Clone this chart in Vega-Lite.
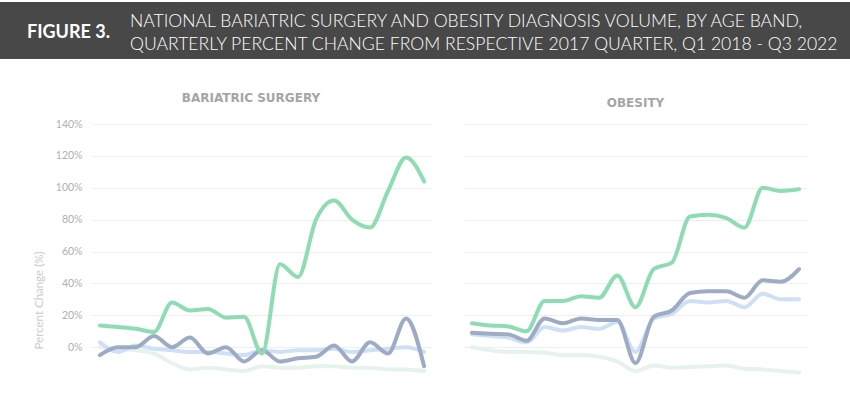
{
  "$schema": "https://vega.github.io/schema/vega-lite/v6.json",
  "padding": {"left": 0, "top": 2, "right": 0, "bottom": 0},
  "background": "white",
  "config": {"font": "Lato", "view": {"stroke": null}},
  "datasets": {
    "series": [
      {"panel": "Bariatric", "band": "Faint", "q": "Q1 2018", "v": 0},
      {"panel": "Bariatric", "band": "Faint", "q": "Q2 2018", "v": -1},
      {"panel": "Bariatric", "band": "Faint", "q": "Q3 2018", "v": -2},
      {"panel": "Bariatric", "band": "Faint", "q": "Q4 2018", "v": -4},
      {"panel": "Bariatric", "band": "Faint", "q": "Q1 2019", "v": -10},
      {"panel": "Bariatric", "band": "Faint", "q": "Q2 2019", "v": -14},
      {"panel": "Bariatric", "band": "Faint", "q": "Q3 2019", "v": -13},
      {"panel": "Bariatric", "band": "Faint", "q": "Q4 2019", "v": -14},
      {"panel": "Bariatric", "band": "Faint", "q": "Q1 2020", "v": -15},
      {"panel": "Bariatric", "band": "Faint", "q": "Q2 2020", "v": -12},
      {"panel": "Bariatric", "band": "Faint", "q": "Q3 2020", "v": -13},
      {"panel": "Bariatric", "band": "Faint", "q": "Q4 2020", "v": -13},
      {"panel": "Bariatric", "band": "Faint", "q": "Q1 2021", "v": -12},
      {"panel": "Bariatric", "band": "Faint", "q": "Q2 2021", "v": -12},
      {"panel": "Bariatric", "band": "Faint", "q": "Q3 2021", "v": -13},
      {"panel": "Bariatric", "band": "Faint", "q": "Q4 2021", "v": -13},
      {"panel": "Bariatric", "band": "Faint", "q": "Q1 2022", "v": -14},
      {"panel": "Bariatric", "band": "Faint", "q": "Q2 2022", "v": -14},
      {"panel": "Bariatric", "band": "Faint", "q": "Q3 2022", "v": -15},

      {"panel": "Bariatric", "band": "Light", "q": "Q1 2018", "v": 3},
      {"panel": "Bariatric", "band": "Light", "q": "Q2 2018", "v": -3},
      {"panel": "Bariatric", "band": "Light", "q": "Q3 2018", "v": 1},
      {"panel": "Bariatric", "band": "Light", "q": "Q4 2018", "v": -1},
      {"panel": "Bariatric", "band": "Light", "q": "Q1 2019", "v": -2},
      {"panel": "Bariatric", "band": "Light", "q": "Q2 2019", "v": -3},
      {"panel": "Bariatric", "band": "Light", "q": "Q3 2019", "v": -3},
      {"panel": "Bariatric", "band": "Light", "q": "Q4 2019", "v": -4},
      {"panel": "Bariatric", "band": "Light", "q": "Q1 2020", "v": -5},
      {"panel": "Bariatric", "band": "Light", "q": "Q2 2020", "v": -2},
      {"panel": "Bariatric", "band": "Light", "q": "Q3 2020", "v": -3},
      {"panel": "Bariatric", "band": "Light", "q": "Q4 2020", "v": -2},
      {"panel": "Bariatric", "band": "Light", "q": "Q1 2021", "v": -2},
      {"panel": "Bariatric", "band": "Light", "q": "Q2 2021", "v": -1},
      {"panel": "Bariatric", "band": "Light", "q": "Q3 2021", "v": -3},
      {"panel": "Bariatric", "band": "Light", "q": "Q4 2021", "v": -2},
      {"panel": "Bariatric", "band": "Light", "q": "Q1 2022", "v": -1},
      {"panel": "Bariatric", "band": "Light", "q": "Q2 2022", "v": 0},
      {"panel": "Bariatric", "band": "Light", "q": "Q3 2022", "v": -3},

      {"panel": "Bariatric", "band": "Dark", "q": "Q1 2018", "v": -5},
      {"panel": "Bariatric", "band": "Dark", "q": "Q2 2018", "v": 0},
      {"panel": "Bariatric", "band": "Dark", "q": "Q3 2018", "v": 0},
      {"panel": "Bariatric", "band": "Dark", "q": "Q4 2018", "v": 7},
      {"panel": "Bariatric", "band": "Dark", "q": "Q1 2019", "v": 0},
      {"panel": "Bariatric", "band": "Dark", "q": "Q2 2019", "v": 6},
      {"panel": "Bariatric", "band": "Dark", "q": "Q3 2019", "v": -4},
      {"panel": "Bariatric", "band": "Dark", "q": "Q4 2019", "v": 0},
      {"panel": "Bariatric", "band": "Dark", "q": "Q1 2020", "v": -9},
      {"panel": "Bariatric", "band": "Dark", "q": "Q2 2020", "v": -2},
      {"panel": "Bariatric", "band": "Dark", "q": "Q3 2020", "v": -9},
      {"panel": "Bariatric", "band": "Dark", "q": "Q4 2020", "v": -7},
      {"panel": "Bariatric", "band": "Dark", "q": "Q1 2021", "v": -6},
      {"panel": "Bariatric", "band": "Dark", "q": "Q2 2021", "v": 1},
      {"panel": "Bariatric", "band": "Dark", "q": "Q3 2021", "v": -9},
      {"panel": "Bariatric", "band": "Dark", "q": "Q4 2021", "v": 3},
      {"panel": "Bariatric", "band": "Dark", "q": "Q1 2022", "v": -4},
      {"panel": "Bariatric", "band": "Dark", "q": "Q2 2022", "v": 18},
      {"panel": "Bariatric", "band": "Dark", "q": "Q3 2022", "v": -12},

      {"panel": "Bariatric", "band": "Green", "q": "Q1 2018", "v": 13.6},
      {"panel": "Bariatric", "band": "Green", "q": "Q2 2018", "v": 12.6},
      {"panel": "Bariatric", "band": "Green", "q": "Q3 2018", "v": 11.5},
      {"panel": "Bariatric", "band": "Green", "q": "Q4 2018", "v": 9.5},
      {"panel": "Bariatric", "band": "Green", "q": "Q1 2019", "v": 28},
      {"panel": "Bariatric", "band": "Green", "q": "Q2 2019", "v": 23},
      {"panel": "Bariatric", "band": "Green", "q": "Q3 2019", "v": 24},
      {"panel": "Bariatric", "band": "Green", "q": "Q4 2019", "v": 18.5},
      {"panel": "Bariatric", "band": "Green", "q": "Q1 2020", "v": 19},
      {"panel": "Bariatric", "band": "Green", "q": "Q2 2020", "v": -4},
      {"panel": "Bariatric", "band": "Green", "q": "Q3 2020", "v": 52},
      {"panel": "Bariatric", "band": "Green", "q": "Q4 2020", "v": 44},
      {"panel": "Bariatric", "band": "Green", "q": "Q1 2021", "v": 80},
      {"panel": "Bariatric", "band": "Green", "q": "Q2 2021", "v": 92},
      {"panel": "Bariatric", "band": "Green", "q": "Q3 2021", "v": 80},
      {"panel": "Bariatric", "band": "Green", "q": "Q4 2021", "v": 75},
      {"panel": "Bariatric", "band": "Green", "q": "Q1 2022", "v": 98},
      {"panel": "Bariatric", "band": "Green", "q": "Q2 2022", "v": 119},
      {"panel": "Bariatric", "band": "Green", "q": "Q3 2022", "v": 104},

      {"panel": "Obesity", "band": "Faint", "q": "Q1 2018", "v": 0},
      {"panel": "Obesity", "band": "Faint", "q": "Q2 2018", "v": -2},
      {"panel": "Obesity", "band": "Faint", "q": "Q3 2018", "v": -3},
      {"panel": "Obesity", "band": "Faint", "q": "Q4 2018", "v": -3},
      {"panel": "Obesity", "band": "Faint", "q": "Q1 2019", "v": -3.5},
      {"panel": "Obesity", "band": "Faint", "q": "Q2 2019", "v": -5},
      {"panel": "Obesity", "band": "Faint", "q": "Q3 2019", "v": -5},
      {"panel": "Obesity", "band": "Faint", "q": "Q4 2019", "v": -6},
      {"panel": "Obesity", "band": "Faint", "q": "Q1 2020", "v": -9},
      {"panel": "Obesity", "band": "Faint", "q": "Q2 2020", "v": -15},
      {"panel": "Obesity", "band": "Faint", "q": "Q3 2020", "v": -11.5},
      {"panel": "Obesity", "band": "Faint", "q": "Q4 2020", "v": -13},
      {"panel": "Obesity", "band": "Faint", "q": "Q1 2021", "v": -12.5},
      {"panel": "Obesity", "band": "Faint", "q": "Q2 2021", "v": -12},
      {"panel": "Obesity", "band": "Faint", "q": "Q3 2021", "v": -11.5},
      {"panel": "Obesity", "band": "Faint", "q": "Q4 2021", "v": -13.5},
      {"panel": "Obesity", "band": "Faint", "q": "Q1 2022", "v": -14},
      {"panel": "Obesity", "band": "Faint", "q": "Q2 2022", "v": -15},
      {"panel": "Obesity", "band": "Faint", "q": "Q3 2022", "v": -16},

      {"panel": "Obesity", "band": "Light", "q": "Q1 2018", "v": 8},
      {"panel": "Obesity", "band": "Light", "q": "Q2 2018", "v": 7},
      {"panel": "Obesity", "band": "Light", "q": "Q3 2018", "v": 6},
      {"panel": "Obesity", "band": "Light", "q": "Q4 2018", "v": 3},
      {"panel": "Obesity", "band": "Light", "q": "Q1 2019", "v": 12.6},
      {"panel": "Obesity", "band": "Light", "q": "Q2 2019", "v": 10.5},
      {"panel": "Obesity", "band": "Light", "q": "Q3 2019", "v": 12.6},
      {"panel": "Obesity", "band": "Light", "q": "Q4 2019", "v": 11.5},
      {"panel": "Obesity", "band": "Light", "q": "Q1 2020", "v": 15.7},
      {"panel": "Obesity", "band": "Light", "q": "Q2 2020", "v": -3},
      {"panel": "Obesity", "band": "Light", "q": "Q3 2020", "v": 18},
      {"panel": "Obesity", "band": "Light", "q": "Q4 2020", "v": 21},
      {"panel": "Obesity", "band": "Light", "q": "Q1 2021", "v": 29},
      {"panel": "Obesity", "band": "Light", "q": "Q2 2021", "v": 28},
      {"panel": "Obesity", "band": "Light", "q": "Q3 2021", "v": 29},
      {"panel": "Obesity", "band": "Light", "q": "Q4 2021", "v": 25},
      {"panel": "Obesity", "band": "Light", "q": "Q1 2022", "v": 33.5},
      {"panel": "Obesity", "band": "Light", "q": "Q2 2022", "v": 30},
      {"panel": "Obesity", "band": "Light", "q": "Q3 2022", "v": 30},

      {"panel": "Obesity", "band": "Dark", "q": "Q1 2018", "v": 9},
      {"panel": "Obesity", "band": "Dark", "q": "Q2 2018", "v": 8.4},
      {"panel": "Obesity", "band": "Dark", "q": "Q3 2018", "v": 8},
      {"panel": "Obesity", "band": "Dark", "q": "Q4 2018", "v": 4},
      {"panel": "Obesity", "band": "Dark", "q": "Q1 2019", "v": 18},
      {"panel": "Obesity", "band": "Dark", "q": "Q2 2019", "v": 15},
      {"panel": "Obesity", "band": "Dark", "q": "Q3 2019", "v": 18},
      {"panel": "Obesity", "band": "Dark", "q": "Q4 2019", "v": 17},
      {"panel": "Obesity", "band": "Dark", "q": "Q1 2020", "v": 17},
      {"panel": "Obesity", "band": "Dark", "q": "Q2 2020", "v": -10},
      {"panel": "Obesity", "band": "Dark", "q": "Q3 2020", "v": 19},
      {"panel": "Obesity", "band": "Dark", "q": "Q4 2020", "v": 23},
      {"panel": "Obesity", "band": "Dark", "q": "Q1 2021", "v": 34},
      {"panel": "Obesity", "band": "Dark", "q": "Q2 2021", "v": 35},
      {"panel": "Obesity", "band": "Dark", "q": "Q3 2021", "v": 35},
      {"panel": "Obesity", "band": "Dark", "q": "Q4 2021", "v": 31},
      {"panel": "Obesity", "band": "Dark", "q": "Q1 2022", "v": 42},
      {"panel": "Obesity", "band": "Dark", "q": "Q2 2022", "v": 41},
      {"panel": "Obesity", "band": "Dark", "q": "Q3 2022", "v": 49},

      {"panel": "Obesity", "band": "Green", "q": "Q1 2018", "v": 15},
      {"panel": "Obesity", "band": "Green", "q": "Q2 2018", "v": 13.6},
      {"panel": "Obesity", "band": "Green", "q": "Q3 2018", "v": 13},
      {"panel": "Obesity", "band": "Green", "q": "Q4 2018", "v": 10},
      {"panel": "Obesity", "band": "Green", "q": "Q1 2019", "v": 29},
      {"panel": "Obesity", "band": "Green", "q": "Q2 2019", "v": 29},
      {"panel": "Obesity", "band": "Green", "q": "Q3 2019", "v": 32},
      {"panel": "Obesity", "band": "Green", "q": "Q4 2019", "v": 31},
      {"panel": "Obesity", "band": "Green", "q": "Q1 2020", "v": 45},
      {"panel": "Obesity", "band": "Green", "q": "Q2 2020", "v": 25},
      {"panel": "Obesity", "band": "Green", "q": "Q3 2020", "v": 49},
      {"panel": "Obesity", "band": "Green", "q": "Q4 2020", "v": 53},
      {"panel": "Obesity", "band": "Green", "q": "Q1 2021", "v": 82},
      {"panel": "Obesity", "band": "Green", "q": "Q2 2021", "v": 83},
      {"panel": "Obesity", "band": "Green", "q": "Q3 2021", "v": 81},
      {"panel": "Obesity", "band": "Green", "q": "Q4 2021", "v": 75},
      {"panel": "Obesity", "band": "Green", "q": "Q1 2022", "v": 100},
      {"panel": "Obesity", "band": "Green", "q": "Q2 2022", "v": 98},
      {"panel": "Obesity", "band": "Green", "q": "Q3 2022", "v": 99}
    ]
  },
  "spacing": 33,
  "vconcat": [
    {
      "hconcat": [
        {
          "width": 125,
          "height": 57,
          "view": {"fill": "#484848", "stroke": null},
          "data": {"values": []},
          "mark": {"type": "point"},
          "title": {
            "text": "FIGURE 3.",
            "font": "Lato",
            "fontSize": 18,
            "fontWeight": "bold",
            "color": "#ffffff",
            "anchor": "middle",
            "frame": "group",
            "orient": "bottom",
            "baseline": "alphabetic",
            "offset": -21,
            "dx": 6
          }
        },
        {
          "width": 725,
          "height": 57,
          "view": {"fill": "#484848", "stroke": null},
          "data": {"values": []},
          "mark": {"type": "point"},
          "title": {
            "text": [
              "NATIONAL BARIATRIC SURGERY AND OBESITY DIAGNOSIS VOLUME, BY AGE BAND,",
              "QUARTERLY PERCENT CHANGE FROM RESPECTIVE 2017 QUARTER, Q1 2018 - Q3 2022"
            ],
            "font": "Lato",
            "fontSize": 17.6,
            "fontWeight": 300,
            "lineHeight": 23,
            "color": "#ffffff",
            "anchor": "start",
            "frame": "group",
            "orient": "bottom",
            "baseline": "alphabetic",
            "offset": -32,
            "dx": 5
          }
        }
      ],
      "spacing": 0
    },
    {
      "hconcat": [
        {
          "width": 1,
          "height": 255,
          "data": {"values": []},
          "mark": {"type": "point"}
        },
        {
          "width": 340,
          "height": 255,
          "data": {"name": "series"},
          "transform": [{"filter": "datum.panel === 'Bariatric'"}],
          "title": {
            "text": "BARIATRIC SURGERY",
            "font": "DejaVu Sans",
            "fontSize": 12,
            "fontWeight": "bold",
            "color": "#a5a5a5",
            "offset": 14,
            "dx": -11
          },
          "mark": {"type": "line", "interpolate": "monotone", "strokeWidth": 4, "strokeCap": "round"},
          "encoding": {
            "x": {"field": "q", "type": "ordinal", "sort": null, "scale": {"type": "point", "padding": 0.44}, "axis": null},
            "y": {
              "field": "v", "type": "quantitative",
              "scale": {"domain": [-20, 140], "nice": false, "zero": false},
              "axis": {
                "values": [0, 20, 40, 60, 80, 100, 120, 140],
                "labelExpr": "datum.value + '%'",
                "labelColor": "#b0b0b0",
                "labelFontSize": 10.5,
                "labelPadding": 10,
                "ticks": false,
                "domain": false,
                "gridColor": "#eeeeee",
                "minExtent": 61,
                "title": "Percent Change (%)",
                "titleColor": "#cccccc",
                "titleFontSize": 11.5,
                "titleFontWeight": "normal",
                "titleX": -48,
                "titleY": 176
              }
            },
            "color": {
              "field": "band", "type": "nominal",
              "scale": {"domain": ["Faint", "Light", "Dark", "Green"], "range": ["#e6f3ec", "#cfe0f6", "#9eabc4", "#8ddcb2"]},
              "legend": null
            }
          }
        },
        {
          "width": 343,
          "height": 255,
          "data": {"name": "series"},
          "transform": [{"filter": "datum.panel === 'Obesity'"}],
          "title": {
            "text": "OBESITY",
            "font": "DejaVu Sans",
            "fontSize": 12,
            "fontWeight": "bold",
            "color": "#a5a5a5",
            "offset": 14
          },
          "mark": {"type": "line", "interpolate": "monotone", "strokeWidth": 4, "strokeCap": "round"},
          "encoding": {
            "x": {"field": "q", "type": "ordinal", "sort": null, "scale": {"type": "point", "padding": 0.44}, "axis": null},
            "y": {
              "field": "v", "type": "quantitative",
              "scale": {"domain": [-20, 140], "nice": false, "zero": false},
              "axis": {
                "values": [0, 20, 40, 60, 80, 100, 120, 140],
                "labels": false,
                "ticks": false,
                "domain": false,
                "gridColor": "#eeeeee",
                "minExtent": 0,
                "title": null
              }
            },
            "color": {
              "field": "band", "type": "nominal",
              "scale": {"domain": ["Faint", "Light", "Dark", "Green"], "range": ["#e6f3ec", "#cfe0f6", "#9eabc4", "#8ddcb2"]},
              "legend": null
            }
          }
        }
      ],
      "spacing": 30,
      "resolve": {"scale": {"color": "shared"}}
    }
  ]
}
